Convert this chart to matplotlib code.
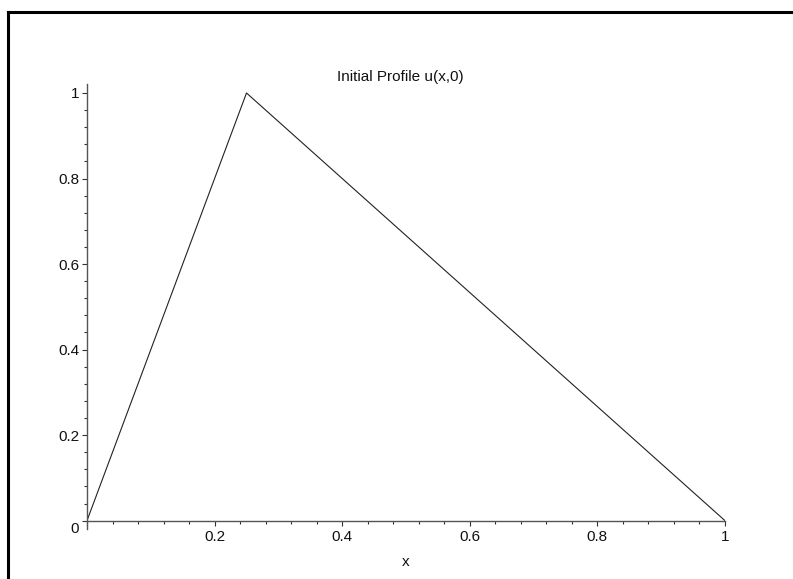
import matplotlib
matplotlib.use("Agg")
import matplotlib.pyplot as plt
from matplotlib.ticker import MultipleLocator, FuncFormatter
from matplotlib.lines import Line2D
import matplotlib.transforms as mtransforms

# Data
x_vals = [0.0, 0.25, 1.0]
u_vals = [0.0, 1.0, 0.0]
title = "Initial Profile u(x,0)"
xlabel = "x"

plt.rcParams['font.family'] = ['Liberation Sans', 'DejaVu Sans']

W, H = 793, 579
fig = plt.figure(figsize=(W / 100, H / 100), dpi=100)

# axes placement (pixels)
x0p, x1p = 87, 725
ybot, ytop = 529, 84
ax = fig.add_axes([x0p / W, (H - ybot) / H, (x1p - x0p) / W, (ybot - ytop) / H])

ax.plot(x_vals, u_vals, color='#222222', lw=0.8)
ax.set_xlim(0, 1)
ax.set_ylim(-0.0195, 1.021)

for s in ('top', 'right'):
    ax.spines[s].set_visible(False)
ax.spines['bottom'].set_position(('data', 0))
ax.spines['bottom'].set_color('#555555')
ax.spines['left'].set_color('#555555')
ax.spines['bottom'].set_linewidth(1.0)
ax.spines['left'].set_linewidth(1.0)

fmt = FuncFormatter(lambda v, p: '%g' % round(v, 6))
ax.xaxis.set_major_locator(MultipleLocator(0.2))
ax.xaxis.set_minor_locator(MultipleLocator(0.04))
ax.yaxis.set_major_locator(MultipleLocator(0.2))
ax.yaxis.set_minor_locator(MultipleLocator(0.04))
ax.xaxis.set_major_formatter(FuncFormatter(lambda v, p: '' if abs(v) < 1e-9 else '%g' % round(v, 6)))
ax.yaxis.set_major_formatter(fmt)

ax.tick_params(axis='both', which='major', direction='out', length=3.5, width=0.8,
               color='#333333', labelsize=11, labelcolor='#111111')
ax.tick_params(axis='both', which='minor', direction='out', length=2, width=0.8,
               color='#333333')
ax.tick_params(axis='x', which='major', pad=3)
ax.tick_params(axis='y', which='major', pad=2)

# shift the y "0" label down a bit, as in the reference
fig.canvas.draw()
for lab in ax.get_yticklabels():
    if lab.get_text() == '0':
        lab.set_transform(lab.get_transform() + mtransforms.ScaledTranslation(0, -7 / 100, fig.dpi_scale_trans))

fig.text(400 / W, 1 - 77 / H, title, ha='center', va='center', fontsize=11, color='#111111')
fig.text(406 / W, 1 - 562 / H, xlabel, ha='center', va='center', fontsize=11, color='#111111')

# outer frame (top and left visible)
fig.add_artist(Line2D([8.3 / W, 8.3 / W], [0, 1 - 12 / H], transform=fig.transFigure,
                      color='black', lw=2.2, solid_capstyle='projecting'))
fig.add_artist(Line2D([8.3 / W, 1], [1 - 12 / H, 1 - 12 / H], transform=fig.transFigure,
                      color='black', lw=2.2, solid_capstyle='projecting'))

fig.savefig('out.png', dpi=100)
